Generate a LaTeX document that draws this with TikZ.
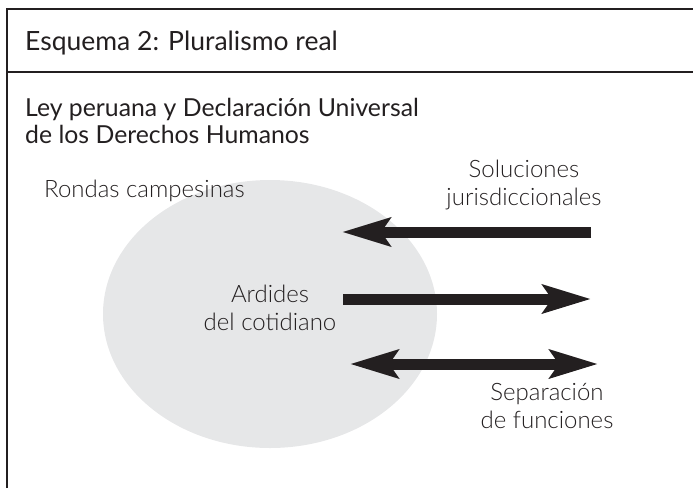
\documentclass[tikz,border=0pt]{standalone}
\usepackage{fontspec}
\setmainfont{Lato}
\newfontfamily\lightfont{Lato Light}
\usetikzlibrary{arrows.meta}
\definecolor{ink}{HTML}{231F20}
\definecolor{blob}{HTML}{E6E7E8}
\begin{document}
\begin{tikzpicture}[x=1pt,y=-1pt,
  frameline/.style={draw=ink,line width=1.4pt},
  bigarrow/.style={draw=ink,line width=11pt,
    -{Stealth[length=48pt,width=28pt,inset=9pt]}},
  dblarrow/.style={draw=ink,line width=11pt,
    {Stealth[length=48pt,width=28pt,inset=9pt]}-{Stealth[length=48pt,width=28pt,inset=9pt]}},
  titletext/.style={font=\fontsize{26.5}{30}\selectfont,text=ink,anchor=base west,inner sep=0pt},
  headtext/.style={font=\fontsize{24.8}{26.5}\selectfont,text=ink,anchor=base west,align=left,inner sep=0pt},
  lbl/.style={font=\lightfont\fontsize{24}{28}\selectfont,text=ink,align=center,inner sep=0pt,anchor=base}]
\useasboundingbox (0,0) rectangle (693,488);
% frame
\coordinate (fTL) at (7,9);
\coordinate (fTR) at (693,9);
\coordinate (fBL) at (7,488);
\coordinate (sL) at (7,72);
\coordinate (sR) at (693,72);
\draw[frameline] (fBL) -- (fTL) -- (fTR);
\draw[frameline] (sL) -- (sR);
% blob
\fill[blob] (270,314) ellipse [x radius=167, y radius=134];
% texts (base anchor of a two-line node = baseline of its last line)
\node[titletext] (ttl) at (25,50) {Esquema 2: Pluralismo real};
\node[headtext] (ley) at (25,143) {Ley peruana y Declaración Universal\\de los Derechos Humanos};
\node[lbl,anchor=base west] (ron) at (44,197) {Rondas campesinas};
\node[lbl] (sol) at (524,205) {Soluciones\\jurisdiccionales};
\node[lbl] (ard) at (270,330) {Ardides\\del cotidiano};
\node[lbl] (sep) at (547,428) {Separación\\de funciones};
% arrows
\coordinate (a1s) at (591,232);
\coordinate (a1e) at (342,232);
\coordinate (a2s) at (343,299);
\coordinate (a2e) at (591,299);
\coordinate (a3s) at (350,364);
\coordinate (a3e) at (598,364);
\draw[bigarrow] (a1s) -- (a1e);
\draw[bigarrow] (a2s) -- (a2e);
\draw[dblarrow] (a3s) -- (a3e);
\end{tikzpicture}
\end{document}
